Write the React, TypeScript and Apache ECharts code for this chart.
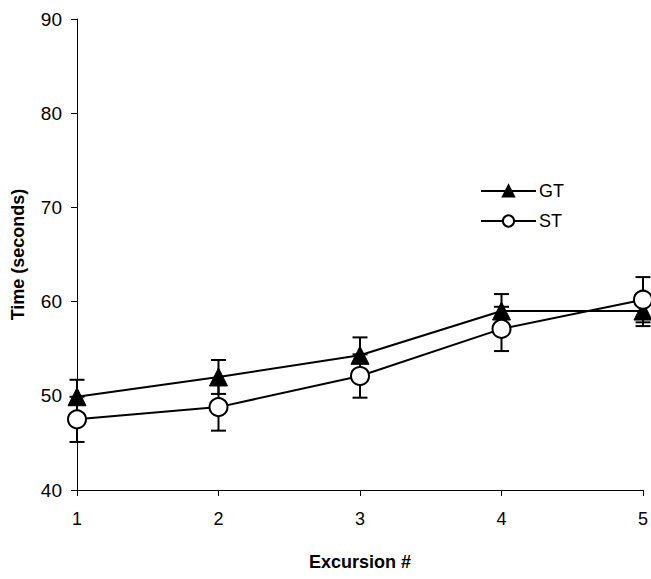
import React, { useEffect, useRef } from "react";
import * as echarts from "echarts";

const excursions = [1, 2, 3, 4, 5];
const gtMeans = [49.9, 52.0, 54.3, 59.0, 59.0];
const gtErr = [1.8, 1.8, 1.9, 1.8, 1.6];
const stMeans = [47.5, 48.8, 52.1, 57.1, 60.2];
const stErr = [2.4, 2.5, 2.3, 2.35, 2.4];

const FONT = "'Liberation Sans', Arial, sans-serif";

export default function App() {
  const ref = useRef<HTMLDivElement>(null);
  useEffect(() => {
    if (!ref.current) return;
    const chart = echarts.init(ref.current, null, { renderer: "svg" });
    const errData = (means: number[], errs: number[]) =>
      excursions.map((x, i) => [x, means[i] - errs[i], means[i] + errs[i]]);
    const errSeries = (name: string, means: number[], errs: number[]) => ({
      type: "custom",
      name: name + "err",
      z: 1,
      silent: true,
      data: errData(means, errs),
      encode: { x: 0, y: [1, 2] },
      renderItem: (params: any, api: any) => {
        const x = api.value(0);
        const lo = api.coord([x, api.value(1)]);
        const hi = api.coord([x, api.value(2)]);
        const w = 7.5;
        const st = { stroke: "#000", lineWidth: 2 };
        return {
          type: "group",
          children: [
            { type: "line", shape: { x1: lo[0], y1: lo[1], x2: hi[0], y2: hi[1] }, style: st },
            { type: "line", shape: { x1: lo[0] - w, y1: lo[1], x2: lo[0] + w, y2: lo[1] }, style: st },
            { type: "line", shape: { x1: hi[0] - w, y1: hi[1], x2: hi[0] + w, y2: hi[1] }, style: st },
          ],
        };
      },
    });
    chart.setOption({
      animation: false,
      backgroundColor: "#fff",
      textStyle: { fontFamily: FONT },
      grid: { left: 77, right: 8, top: 19, bottom: 89 },
      legend: {
        data: ["GT", "ST"],
        orient: "vertical",
        left: 475,
        top: 177,
        itemWidth: 55,
        itemHeight: 14,
        itemGap: 12,
        textStyle: { fontSize: 18, color: "#000", fontFamily: FONT, padding: [0, 0, 0, -2] },
      },
      xAxis: {
        type: "value",
        min: 1,
        max: 5,
        interval: 1,
        name: "Excursion #",
        nameLocation: "middle",
        nameGap: 63,
        nameTextStyle: { fontSize: 18, fontWeight: "bold", color: "#000", fontFamily: FONT },
        axisLine: { lineStyle: { color: "#000", width: 1 } },
        axisTick: { show: true, length: 6, lineStyle: { color: "#000" } },
        axisLabel: { fontSize: 18, color: "#000", margin: 20, fontFamily: FONT },
        splitLine: { show: false },
      },
      yAxis: {
        type: "value",
        min: 40,
        max: 90,
        interval: 10,
        name: "Time (seconds)",
        nameLocation: "middle",
        nameGap: 50,
        nameTextStyle: { fontSize: 18, fontWeight: "bold", color: "#000", fontFamily: FONT },
        axisLine: { show: true, lineStyle: { color: "#000", width: 1 } },
        axisTick: { show: true, length: 6, lineStyle: { color: "#000" } },
        axisLabel: { fontSize: 19, color: "#000", margin: 15, fontFamily: FONT },
        splitLine: { show: false },
      },
      series: [
        errSeries("ST", stMeans, stErr),
        errSeries("GT", gtMeans, gtErr),
        {
          type: "line",
          name: "GT",
          z: 3,
          data: excursions.map((x, i) => [x, gtMeans[i]]),
          symbol: "triangle",
          symbolSize: 18,
          showAllSymbol: true,
          lineStyle: { color: "#000", width: 2 },
          itemStyle: { color: "#000", borderColor: "#000", borderWidth: 1 },
        },
        {
          type: "line",
          name: "ST",
          z: 3,
          data: excursions.map((x, i) => [x, stMeans[i]]),
          symbol: "circle",
          symbolSize: 18,
          showAllSymbol: true,
          lineStyle: { color: "#000", width: 2 },
          itemStyle: { color: "#fff", borderColor: "#000", borderWidth: 2 },
        },
      ],
    });
    return () => chart.dispose();
  }, []);
  return (
    <div
      ref={ref}
      style={{ position: "absolute", left: 0, top: 0, width: 651, height: 579 }}
    />
  );
}
